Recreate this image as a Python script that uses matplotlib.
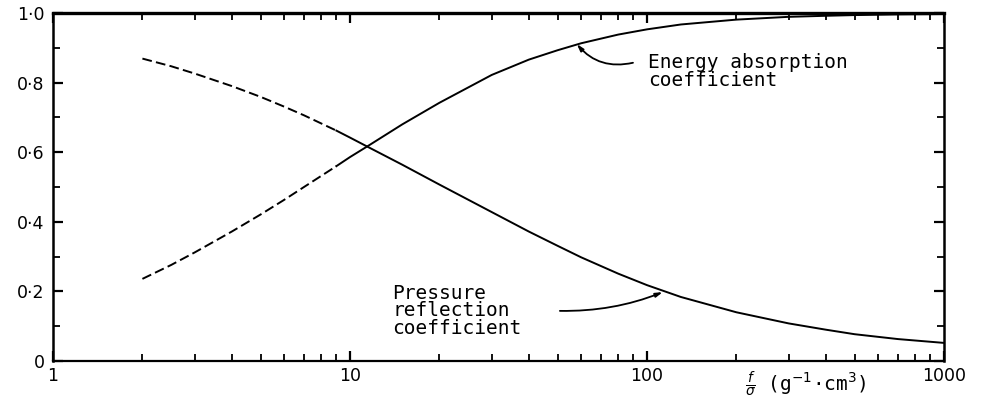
import numpy as np
import matplotlib
matplotlib.use("Agg")
import matplotlib.pyplot as plt
from matplotlib.ticker import FixedLocator, NullFormatter, LogLocator

# ---- data ----
curve_x = [2, 2.5, 3, 4, 5, 6, 7, 9, 10, 11.5, 15, 20, 30, 40, 50, 60, 80, 100,
           130, 200, 300, 400, 500, 700, 1000]
energy_y = [0.236, 0.276, 0.312, 0.372, 0.421, 0.463, 0.500, 0.560, 0.586, 0.618,
            0.680, 0.742, 0.822, 0.866, 0.893, 0.913, 0.938, 0.953, 0.967, 0.981,
            0.989, 0.992, 0.994, 0.996, 0.997]
pressure_y = [0.869, 0.847, 0.826, 0.790, 0.759, 0.731, 0.706, 0.662, 0.642, 0.615,
              0.564, 0.507, 0.428, 0.372, 0.331, 0.298, 0.251, 0.218, 0.184, 0.140,
              0.108, 0.090, 0.077, 0.063, 0.052]

dash_end = 9  # curves drawn broken below this abscissa

x_ticks = [1, 10, 100, 1000]
x_ticklabels = ["1", "10", "100", "1000"]
y_ticks = [0, 0.2, 0.4, 0.6, 0.8, 1.0]
y_ticklabels = ["0", "0·2", "0·4", "0·6", "0·8", "1·0"]

energy_label = "Energy absorption\ncoefficient"
pressure_label = "Pressure\nreflection\ncoefficient"
x_label = r"$\frac{f}{\sigma}$ (g$^{-1}$·cm$^{3}$)"

# ---- figure ----
plt.rcParams["font.family"] = ["DejaVu Sans"]
fig = plt.figure(figsize=(9.82, 3.98), dpi=100)
ax = fig.add_axes([53 / 982, 1 - 361 / 398, (944 - 53) / 982, (361 - 13) / 398])

xs = np.array(curve_x)
lw = 1.4
for ys in (np.array(energy_y), np.array(pressure_y)):
    m1 = xs <= dash_end
    m2 = xs >= dash_end
    ax.plot(xs[m1], ys[m1], color="black", lw=lw, dashes=[5, 2.2],
            solid_capstyle="butt")
    ax.plot(xs[m2], ys[m2], color="black", lw=lw)

ax.set_xscale("log")
ax.set_xlim(1, 1000)
ax.set_ylim(0, 1.0)

ax.xaxis.set_major_locator(FixedLocator(x_ticks))
ax.set_xticklabels(x_ticklabels)
ax.xaxis.set_minor_locator(LogLocator(base=10, subs=np.arange(2, 10)))
ax.xaxis.set_minor_formatter(NullFormatter())
ax.set_yticks(y_ticks)
ax.set_yticklabels(y_ticklabels)
ax.set_yticks([0.1, 0.3, 0.5, 0.7, 0.9], minor=True)

ax.tick_params(which="both", direction="in", top=True, right=True,
               colors="black", labelsize=12.5)
ax.tick_params(which="major", length=7, width=1.6)
ax.tick_params(which="minor", length=5, width=1.3)
ax.tick_params(axis="x", pad=4)
ax.tick_params(axis="y", pad=6)

for side, w in (("top", 2.4), ("bottom", 1.6), ("left", 1.8), ("right", 1.8)):
    ax.spines[side].set_linewidth(w)
    ax.spines[side].set_color("black")

mono = "DejaVu Sans Mono"
ax.text(100.8, 0.885, energy_label, fontsize=14, family=mono, va="top",
        ha="left", linespacing=0.9)
ax.text(13.9, 0.222, pressure_label, fontsize=14, family=mono, va="top",
        ha="left", linespacing=0.9)

ax.annotate("", xy=(58, 0.911), xytext=(89.7, 0.857),
            arrowprops=dict(arrowstyle="-|>,head_length=0.4,head_width=0.12",
                            color="black", lw=1.3,
                            connectionstyle="arc3,rad=-0.3",
                            shrinkA=0, shrinkB=0))
ax.annotate("", xy=(113, 0.198), xytext=(50.9, 0.144),
            arrowprops=dict(arrowstyle="-|>,head_length=0.4,head_width=0.12",
                            color="black", lw=1.3,
                            connectionstyle="arc3,rad=0.1",
                            shrinkA=0, shrinkB=0))

fig.text(806 / 982, 1 - 384 / 398, x_label, fontsize=14, ha="center",
         va="center", family=mono)

fig.savefig("out.png", dpi=100)
